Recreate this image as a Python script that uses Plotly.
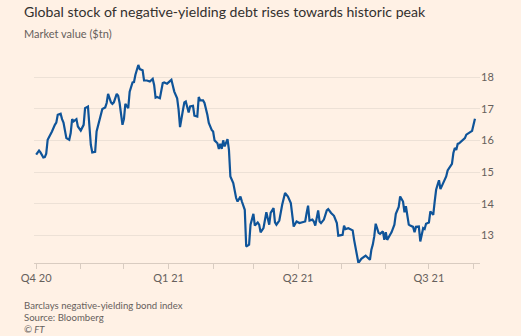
import plotly.graph_objects as go

dates = [
    "2020-10-01", "2020-10-03", "2020-10-04", "2020-10-06", "2020-10-07", "2020-10-08", "2020-10-09",
    "2020-10-11", "2020-10-12", "2020-10-14", "2020-10-15", "2020-10-16", "2020-10-18", "2020-10-19",
    "2020-10-20", "2020-10-22", "2020-10-24", "2020-10-25", "2020-10-26", "2020-10-27", "2020-10-29",
    "2020-10-30", "2020-11-01", "2020-11-03", "2020-11-04", "2020-11-06", "2020-11-08", "2020-11-09",
    "2020-11-11", "2020-11-12", "2020-11-14", "2020-11-15", "2020-11-16", "2020-11-18", "2020-11-19",
    "2020-11-20", "2020-11-22", "2020-11-23", "2020-11-24", "2020-11-26", "2020-11-27", "2020-11-28",
    "2020-11-30", "2020-12-01", "2020-12-02", "2020-12-04", "2020-12-05", "2020-12-07", "2020-12-08",
    "2020-12-09", "2020-12-11", "2020-12-12", "2020-12-14", "2020-12-15", "2020-12-17", "2020-12-19",
    "2020-12-21", "2020-12-22", "2020-12-23", "2020-12-24", "2020-12-26", "2020-12-28", "2020-12-29",
    "2020-12-31", "2021-01-02", "2021-01-03", "2021-01-05", "2021-01-07", "2021-01-08", "2021-01-09",
    "2021-01-11", "2021-01-12", "2021-01-13", "2021-01-15", "2021-01-16", "2021-01-18", "2021-01-19",
    "2021-01-21", "2021-01-22", "2021-01-23", "2021-01-25", "2021-01-26", "2021-01-28", "2021-01-29",
    "2021-01-31", "2021-02-01", "2021-02-02", "2021-02-04", "2021-02-05", "2021-02-06", "2021-02-07",
    "2021-02-08", "2021-02-09", "2021-02-11", "2021-02-12", "2021-02-13", "2021-02-15", "2021-02-16",
    "2021-02-17", "2021-02-18", "2021-02-20", "2021-02-21", "2021-02-23", "2021-02-24", "2021-02-26",
    "2021-02-27", "2021-03-01", "2021-03-02", "2021-03-04", "2021-03-05", "2021-03-06", "2021-03-08",
    "2021-03-09", "2021-03-10", "2021-03-12", "2021-03-13", "2021-03-15", "2021-03-16", "2021-03-17",
    "2021-03-19", "2021-03-21", "2021-03-23", "2021-03-25", "2021-03-27", "2021-03-29", "2021-03-30",
    "2021-03-31", "2021-04-02", "2021-04-04", "2021-04-06", "2021-04-07", "2021-04-08", "2021-04-09",
    "2021-04-11", "2021-04-12", "2021-04-13", "2021-04-15", "2021-04-16", "2021-04-17", "2021-04-19",
    "2021-04-21", "2021-04-22", "2021-04-24", "2021-04-26", "2021-04-28", "2021-04-29", "2021-05-01",
    "2021-05-02", "2021-05-03", "2021-05-04", "2021-05-06", "2021-05-07", "2021-05-09", "2021-05-10",
    "2021-05-12", "2021-05-13", "2021-05-15", "2021-05-17", "2021-05-18", "2021-05-19", "2021-05-21",
    "2021-05-22", "2021-05-23", "2021-05-24", "2021-05-25", "2021-05-27", "2021-05-28", "2021-05-30",
    "2021-05-31", "2021-06-01", "2021-06-02", "2021-06-04", "2021-06-05", "2021-06-07", "2021-06-08",
    "2021-06-10", "2021-06-11", "2021-06-13", "2021-06-14", "2021-06-15", "2021-06-17", "2021-06-18",
    "2021-06-20", "2021-06-21", "2021-06-22", "2021-06-24", "2021-06-25", "2021-06-27", "2021-06-28",
    "2021-06-29", "2021-07-01", "2021-07-02", "2021-07-04", "2021-07-05", "2021-07-06", "2021-07-07",
    "2021-07-08", "2021-07-09", "2021-07-11", "2021-07-13", "2021-07-14", "2021-07-16", "2021-07-17",
    "2021-07-18", "2021-07-19", "2021-07-20", "2021-07-21", "2021-07-22", "2021-07-24", "2021-07-26",
    "2021-07-27", "2021-07-29", "2021-07-31", "2021-08-01", "2021-08-02",
]

market_value = [
    15.55, 15.68, 15.62, 15.46, 15.47, 15.58, 16.02,
    16.18, 16.28, 16.49, 16.56, 16.81, 16.84, 16.67,
    16.56, 16.07, 16.02, 16.23, 16.67, 16.60, 16.67,
    16.44, 16.31, 16.49, 17.02, 17.07, 15.86, 15.62,
    15.64, 16.28, 16.63, 16.73, 16.99, 17.04, 17.18,
    17.47, 17.20, 17.15, 17.20, 17.47, 17.41, 17.18,
    16.49, 16.67, 17.15, 17.02, 17.54, 17.83, 17.84,
    18.07, 18.38, 18.25, 18.21, 17.89, 17.89, 17.86,
    17.94, 17.75, 17.35, 17.37, 17.33, 17.81, 17.83,
    17.79, 17.89, 17.91, 17.54, 17.33, 16.97, 16.42,
    16.95, 17.20, 17.23, 16.88, 17.07, 17.09, 16.78,
    16.75, 17.37, 17.26, 17.26, 17.18, 16.81, 16.55,
    16.33, 16.28, 16.00, 15.91, 15.73, 15.89, 15.73,
    16.00, 15.81, 16.04, 15.70, 14.86, 14.65, 14.39,
    14.18, 14.07, 14.23, 14.07, 13.81, 12.65, 12.71,
    13.34, 13.68, 13.31, 13.41, 13.34, 13.10, 13.23,
    13.44, 13.73, 13.34, 13.71, 13.86, 13.41, 13.34,
    13.47, 13.97, 14.34, 14.23, 14.02, 13.28, 13.37,
    13.44, 13.39, 13.41, 13.44, 13.71, 13.94, 13.47,
    13.50, 13.44, 13.31, 13.79, 13.44, 13.39, 13.50,
    13.79, 13.83, 13.71, 13.62, 13.39, 12.99, 13.01,
    13.02, 13.31, 13.20, 13.23, 13.20, 13.16, 12.86,
    12.34, 12.13, 12.26, 12.32, 12.36, 12.32, 12.23,
    12.55, 12.71, 12.97, 13.37, 13.08, 13.05, 13.13,
    12.86, 13.10, 12.86, 13.02, 13.10, 13.34, 13.68,
    13.90, 14.23, 14.07, 13.73, 13.92, 13.34, 13.31,
    13.27, 13.10, 13.27, 13.28, 12.81, 13.23, 13.20,
    13.37, 13.41, 13.76, 13.65, 14.07, 14.44, 14.60,
    14.74, 14.46, 14.65, 14.86, 15.05, 15.20, 15.26,
    15.60, 15.76, 15.70, 15.89, 15.91, 16.00, 16.07,
    16.18, 16.23, 16.30, 16.49, 16.68,
]

month_ticks = [
    "2020-10-01", "2020-11-01", "2020-12-01", "2021-01-01", "2021-02-01", "2021-03-01",
    "2021-04-01", "2021-05-01", "2021-06-01", "2021-07-01", "2021-08-01",
]
month_tick_labels = ["Q4 20", "", "", "Q1 21", "", "", "Q2 21", "", "", "Q3 21", ""]
y_ticks = [13, 14, 15, 16, 17, 18]

title_text = "Global stock of negative-yielding debt rises towards historic peak"
subtitle_text = "Market value ($tn)"
footer_lines = ["Barclays negative-yielding bond index", "Source: Bloomberg", "<i>© FT</i>"]

BG = "#FFF1E5"
TXT = "#66605C"
FONT = "Lato, 'Noto Sans', sans-serif"

fig = go.Figure()
fig.add_trace(go.Scatter(
    x=dates, y=market_value, mode="lines",
    line=dict(color="#0F5499", width=2.2),
    hoverinfo="skip",
))

fig.update_layout(
    width=521, height=336,
    paper_bgcolor=BG, plot_bgcolor=BG,
    margin=dict(l=34, r=40.5, t=58, b=72.7),
    showlegend=False,
    font=dict(family=FONT, color=TXT, size=11),
    xaxis=dict(
        type="date",
        range=["2020-09-29 12:00", "2021-08-05 12:00"],
        tickvals=month_ticks, ticktext=month_tick_labels,
        showgrid=False, zeroline=False,
        showline=True, linecolor="#D9CCC1", linewidth=1,
        ticks="outside", ticklen=5, tickcolor="#D9CCC1", tickwidth=1,
        tickfont=dict(size=11, color=TXT, family=FONT),
    ),
    yaxis=dict(
        range=[12.13, 18.6],
        side="right",
        tickvals=y_ticks,
        showgrid=True, gridcolor="#EDE1D6", gridwidth=1,
        zeroline=False, showline=False, ticks="",
        tickfont=dict(size=11, color=TXT, family=FONT),
    ),
)

fig.add_annotation(text=title_text, xref="paper", yref="paper", x=-0.0275, y=1.2265,
                   xanchor="left", yanchor="middle", showarrow=False,
                   font=dict(size=14.1, color="#33302E", family=FONT))
fig.add_annotation(text=subtitle_text, xref="paper", yref="paper", x=-0.0275, y=1.1218,
                   xanchor="left", yanchor="middle", showarrow=False,
                   font=dict(size=11, color=TXT, family=FONT))
for line, yy in zip(footer_lines, [-0.208, -0.2664, -0.3249]):
    fig.add_annotation(text=line, xref="paper", yref="paper", x=-0.0275, y=yy,
                       xanchor="left", yanchor="middle", showarrow=False,
                       font=dict(size=9.6, color=TXT, family=FONT))

fig.write_html("out.html")
